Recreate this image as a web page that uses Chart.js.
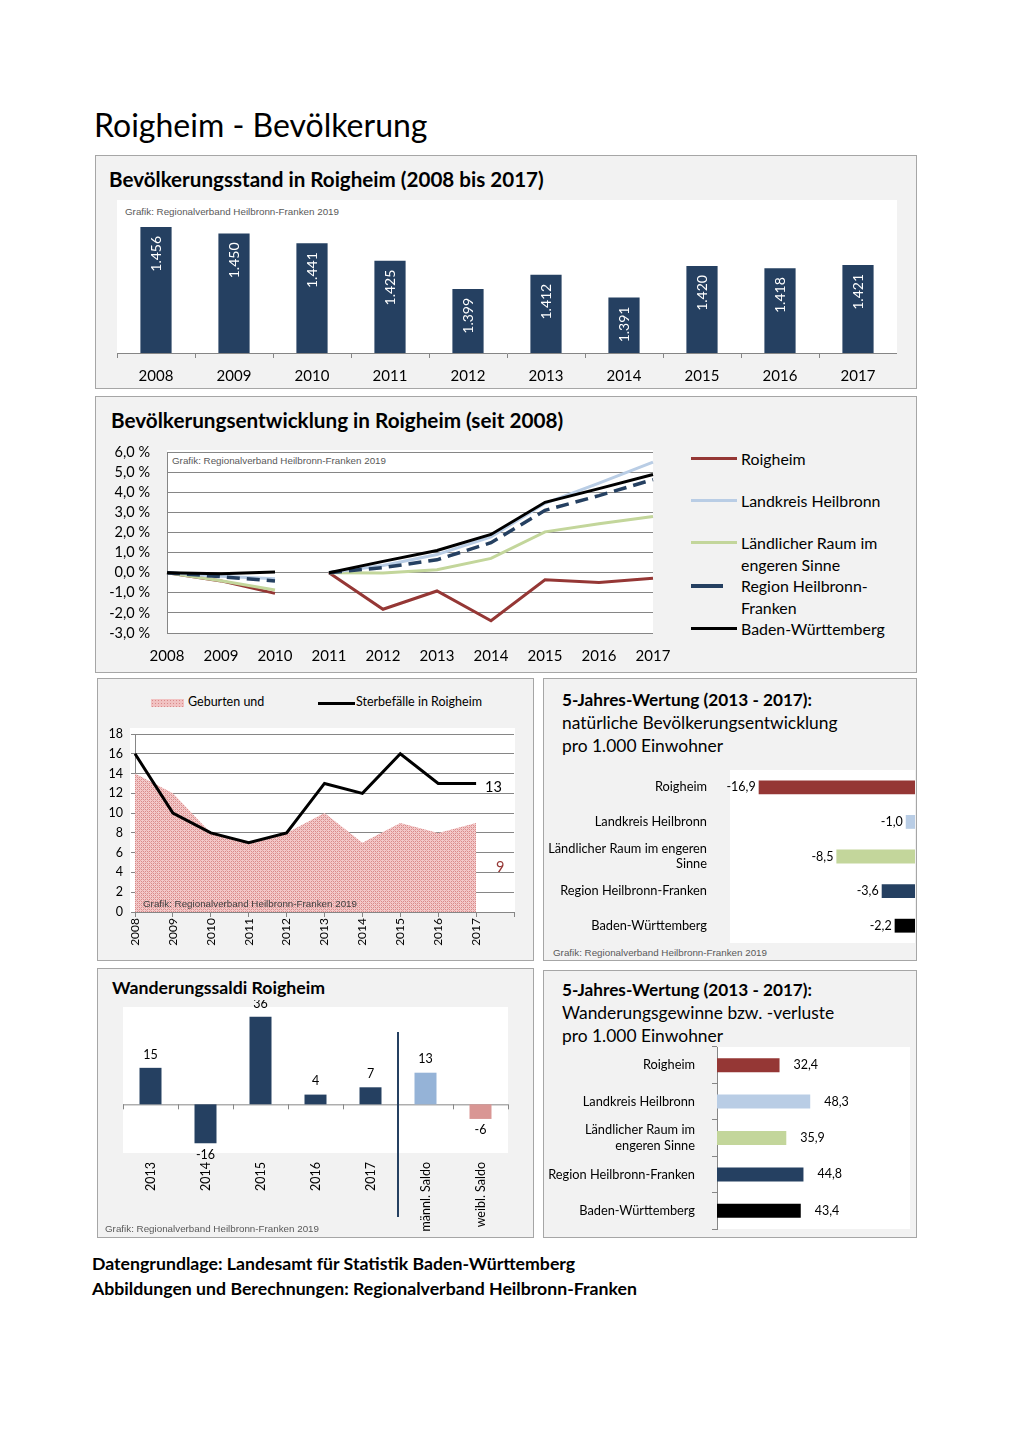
<!DOCTYPE html>
<html lang="de">
<head>
<meta charset="utf-8">
<title>Roigheim - Bevölkerung</title>
<script src="https://cdn.jsdelivr.net/npm/chart.js@4.4.1/dist/chart.umd.min.js"></script>
<style>
  body { margin: 0; width: 1020px; height: 1443px; position: relative; background: #fff; font-family: Lato, "Open Sans", sans-serif; color: #000; overflow: hidden; }
  .panel { position: absolute; background: #f2f2f2; border: 1px solid #a6a6a6; box-sizing: border-box; }
  .white { position: absolute; background: #fff; }
  .t { position: absolute; white-space: nowrap; line-height: 1; }
  .b { font-weight: bold; }
  .credit { position: absolute; white-space: nowrap; font-family: "Liberation Sans", Arial, sans-serif; font-size: 9.8px; line-height: 1; color: #595959; }
  .leg { position: absolute; font-size: 15.9px; line-height: 21.5px; white-space: nowrap; }
  .sw { position: absolute; height: 3px; }
  canvas { position: absolute; }
</style>
</head>
<body>

<div class="t" style="left:94px; top:109px; font-size:32px;">Roigheim - Bevölkerung</div>

<!-- panel 1 -->
<div class="panel" style="left:95px; top:155px; width:822px; height:234px;"></div>
<div class="t b" style="left:109px; top:169px; font-size:20.6px;">Bevölkerungsstand in Roigheim (2008 bis 2017)</div>
<div class="white" style="left:117px; top:200px; width:780px; height:154px;"></div>
<div class="credit" style="left:125px; top:206.5px;">Grafik: Regionalverband Heilbronn-Franken 2019</div>
<canvas id="c1" width="780" height="188" style="left:117px; top:200px;"></canvas>

<!-- panel 2 -->
<div class="panel" style="left:95px; top:396px; width:822px; height:277px;"></div>
<div class="t b" style="left:111px; top:410px; font-size:20.7px;">Bevölkerungsentwicklung in Roigheim (seit 2008)</div>
<div class="white" style="left:167px; top:450px; width:486px; height:183px;"></div>
<div class="credit" style="left:172px; top:455.5px;">Grafik: Regionalverband Heilbronn-Franken 2019</div>
<canvas id="c2" width="570" height="230" style="left:100px; top:440px;"></canvas>
<div id="legend2"></div>

<!-- panel 3 -->
<div class="panel" style="left:97px; top:678px; width:437px; height:283px;"></div>
<div class="white" style="left:130px; top:728px; width:385px; height:185px;"></div>
<div style="position:absolute; left:151px; top:699px; width:33px; height:8px; background:#f1c2c2 radial-gradient(#d98a8a 0.7px, transparent 0.9px) 0 0/3px 3px;"></div>
<div class="t" style="left:188px; top:695.5px; font-size:12.5px;">Geburten und</div>
<div class="sw" style="left:318px; top:701.5px; width:37px; background:#000;"></div>
<div class="t" style="left:356px; top:695.5px; font-size:12.5px;">Sterbefälle in Roigheim</div>
<canvas id="c3" width="430" height="238" style="left:100px; top:720px;"></canvas>
<div class="credit" style="left:143px; top:898.5px; color:#404040;">Grafik: Regionalverband Heilbronn-Franken 2019</div>

<!-- panel 4 -->
<div class="panel" style="left:543px; top:678px; width:374px; height:283px;"></div>
<div class="t b" style="left:562px; top:691px; font-size:17.2px;">5-Jahres-Wertung (2013 - 2017):</div>
<div class="t" style="left:562px; top:714px; font-size:17.4px;">natürliche Bevölkerungsentwicklung</div>
<div class="t" style="left:562px; top:737px; font-size:17.4px;">pro 1.000 Einwohner</div>
<div class="white" style="left:730px; top:770px; width:185px; height:173px;"></div>
<canvas id="c4" width="370" height="180" style="left:545px; top:765px;"></canvas>
<div class="credit" style="left:553px; top:947.5px;">Grafik: Regionalverband Heilbronn-Franken 2019</div>

<!-- panel 5 -->
<div class="panel" style="left:97px; top:968px; width:437px; height:270px;"></div>
<div class="white" style="left:123px; top:1007px; width:385px; height:146px;"></div>
<canvas id="c5" width="430" height="235" style="left:100px; top:1000px;"></canvas>
<div class="t b" style="left:112px; top:978.5px; font-size:17.7px;">Wanderungssaldi Roigheim</div>
<div class="credit" style="left:105px; top:1223.5px;">Grafik: Regionalverband Heilbronn-Franken 2019</div>

<!-- panel 6 -->
<div class="panel" style="left:543px; top:970px; width:374px; height:268px;"></div>
<div class="t b" style="left:562px; top:981px; font-size:17.2px;">5-Jahres-Wertung (2013 - 2017):</div>
<div class="t" style="left:562px; top:1004px; font-size:17.4px;">Wanderungsgewinne bzw. -verluste</div>
<div class="t" style="left:562px; top:1027px; font-size:17.4px;">pro 1.000 Einwohner</div>
<div class="white" style="left:717px; top:1047px; width:193px; height:182px;"></div>
<canvas id="c6" width="370" height="187" style="left:545px; top:1045px;"></canvas>

<div class="t b" style="left:92px; top:1254.5px; font-size:17.7px;">Datengrundlage: Landesamt für Statistik Baden-Württemberg</div>
<div class="t b" style="left:92px; top:1279.5px; font-size:17.7px;">Abbildungen und Berechnungen: Regionalverband Heilbronn-Franken</div>

<script>
// --- data ---
const years = ['2008', '2009', '2010', '2011', '2012', '2013', '2014', '2015', '2016', '2017'];
const population = [1456, 1450, 1441, 1425, 1399, 1412, 1391, 1420, 1418, 1421];

// Entwicklung in %, 2008-2010 bezogen auf 2008, ab 2011 bezogen auf 2011 (Zensus)
const devRoigheim = [0, -0.41, -1.03, 0, -1.82, -0.91, -2.39, -0.35, -0.49, -0.28];
const devLandkreis = [0, -0.18, -0.3, 0, 0.36, 0.9, 1.78, 3.45, 4.45, 5.5];
const devLaendlich = [0, -0.4, -0.86, 0, -0.02, 0.15, 0.71, 2.03, 2.43, 2.79];
const devRegion = [0, -0.2, -0.41, 0, 0.25, 0.64, 1.49, 3.1, 3.83, 4.63];
const devBW = [0, -0.05, 0.03, 0, 0.56, 1.1, 1.9, 3.5, 4.18, 4.88];

const birthYears = ['2008', '2009', '2010', '2011', '2012', '2013', '2014', '2015', '2016', '2017', ''];
const births = [14, 12, 8, 7, 8, 10, 7, 9, 8, 9];
const deaths = [16, 10, 8, 7, 8, 13, 12, 16, 13, 13];

const regions = ['Roigheim', 'Landkreis Heilbronn', ['Ländlicher Raum im engeren', 'Sinne'], 'Region Heilbronn-Franken', 'Baden-Württemberg'];
const regions2 = ['Roigheim', 'Landkreis Heilbronn', ['Ländlicher Raum im', 'engeren Sinne'], 'Region Heilbronn-Franken', 'Baden-Württemberg'];
const naturalRate = [-16.9, -1.0, -8.5, -3.6, -2.2];
const migrationRate = [32.4, 48.3, 35.9, 44.8, 43.4];

const migLabels = ['2013', '2014', '2015', '2016', '2017', 'männl. Saldo', 'weibl. Saldo'];
const migValues = [15, -16, 36, 4, 7, 13, -6];

// --- colours ---
const navy = '#254061';
const red = '#953735';
const lightBlue = '#b9cde5';
const green = '#c3d69b';
const axisGrey = '#868686';
const regionColors = [red, lightBlue, green, navy, '#000'];
const migColors = [navy, navy, navy, navy, navy, '#95b3d7', '#d99694'];

Chart.defaults.font.family = 'Lato, "Open Sans", sans-serif';
Chart.defaults.color = '#000';
Chart.defaults.animation = false;
Chart.defaults.responsive = false;
Chart.defaults.plugins.legend.display = false;
Chart.defaults.plugins.tooltip.enabled = false;

const comma = v => v.toFixed(1).replace('.', ',');
const thousands = v => String(v).replace(/\B(?=(\d{3})+(?!\d))/g, '.');

// fixe Achsengroesse, ohne die automatische Label-Polsterung
function fit(width, height) {
    return s => {
        if (width !== undefined) s.width = width;
        if (height !== undefined) s.height = height;
        s.paddingTop = 0; s.paddingBottom = 0; s.paddingLeft = 0; s.paddingRight = 0;
    };
}

// Balken 1: Bevoelkerungsstand
new Chart(document.getElementById('c1'), {
    type: 'bar',
    data: {
        labels: years,
        datasets: [{ data: population, backgroundColor: navy, barPercentage: 0.4, categoryPercentage: 1 }]
    },
    options: {
        layout: { padding: { top: 15 } },
        scales: {
            x: {
                grid: { offset: true, drawOnChartArea: false, tickLength: 5, color: axisGrey },
                border: { color: axisGrey },
                ticks: { padding: 9, font: { size: 15 } },
                afterFit: fit(undefined, 35)
            },
            y: { display: false, min: 1340, max: 1467 }
        }
    },
    plugins: [{
        id: 'popLabels',
        afterDatasetsDraw(chart) {
            const ctx = chart.ctx;
            chart.getDatasetMeta(0).data.forEach((bar, i) => {
                ctx.save();
                ctx.translate(bar.x, bar.y + 9);
                ctx.rotate(-Math.PI / 2);
                ctx.font = '14px Lato';
                ctx.fillStyle = '#fff';
                ctx.textAlign = 'right';
                ctx.textBaseline = 'middle';
                ctx.fillText(thousands(population[i]), 0, 0);
                ctx.restore();
            });
        }
    }]
});

// Linien: Entwicklung seit 2008
function devSet(data, color, dash) {
    return {
        data: data,
        borderColor: color,
        borderWidth: dash ? 3.5 : 3,
        borderDash: dash || [],
        pointRadius: 0,
        tension: 0,
        segment: { borderColor: c => c.p0DataIndex === 2 ? 'rgba(0,0,0,0)' : color }
    };
}

new Chart(document.getElementById('c2'), {
    type: 'line',
    data: {
        labels: years,
        datasets: [
            devSet(devBW, '#000'),
            devSet(devRegion, navy, [13, 7]),
            devSet(devLandkreis, lightBlue),
            devSet(devLaendlich, green),
            devSet(devRoigheim, red)
        ]
    },
    options: {
        layout: { padding: { top: 12, right: 17 } },
        scales: {
            x: {
                grid: { display: false, drawTicks: false },
                border: { display: false },
                ticks: { padding: 14, maxRotation: 0, autoSkip: false, font: { size: 15 } },
                afterFit: fit(undefined, 37)
            },
            y: {
                min: -3, max: 6,
                ticks: { stepSize: 1, padding: 17, autoSkip: false, font: { size: 14.5 }, callback: v => comma(v) + ' %' },
                grid: { color: axisGrey, drawTicks: false },
                border: { color: axisGrey },
                afterFit: fit(67)
            }
        }
    }
});

// HTML-Legende fuer Linien
const legendRows = [
    { name: 'Roigheim', color: red, top: 448, w: 46 },
    { name: 'Landkreis Heilbronn', color: lightBlue, top: 490, w: 46 },
    { name: 'Ländlicher Raum im<br>engeren Sinne', color: green, top: 532, w: 46 },
    { name: 'Region Heilbronn-<br>Franken', color: navy, top: 575, w: 32 },
    { name: 'Baden-Württemberg', color: '#000', top: 618, w: 46 }
];
const legend2 = document.getElementById('legend2');
legendRows.forEach(r => {
    legend2.insertAdjacentHTML('beforeend',
        `<div class="sw" style="left:691px; top:${r.top + 9}px; width:${r.w}px; height:${r.w < 40 ? 4 : 3}px; background:${r.color};"></div>` +
        `<div class="leg" style="left:741px; top:${r.top}px;">${r.name}</div>`);
});

// Geburten und Sterbefaelle
function hatch() {
    const c = document.createElement('canvas');
    c.width = 4; c.height = 4;
    const g = c.getContext('2d');
    g.fillStyle = '#f3caca';
    g.fillRect(0, 0, 4, 4);
    g.fillStyle = '#d98a8a';
    g.fillRect(1, 1, 1, 1);
    g.fillRect(3, 3, 1, 1);
    g.fillRect(1, 3, 1, 1);
    g.fillRect(3, 1, 1, 1);
    g.fillStyle = '#e6a6a6';
    g.fillRect(0, 0, 1, 1);
    g.fillRect(2, 2, 1, 1);
    return g.createPattern(c, 'repeat');
}

new Chart(document.getElementById('c3'), {
    type: 'line',
    data: {
        labels: birthYears,
        datasets: [
            { data: deaths, borderColor: '#000', borderWidth: 3, pointRadius: 0, tension: 0, order: 0 },
            { data: births, borderColor: 'rgba(0,0,0,0)', borderWidth: 0, backgroundColor: hatch(), fill: 'origin', pointRadius: 0, tension: 0, order: 1 }
        ]
    },
    options: {
        layout: { padding: { top: 14, right: 16 } },
        scales: {
            x: {
                grid: { drawOnChartArea: false, tickLength: 5, color: axisGrey },
                border: { color: axisGrey },
                ticks: { minRotation: 90, maxRotation: 90, padding: 1, autoSkip: false, font: { size: 12 } },
                afterFit: fit(undefined, 46)
            },
            y: {
                min: 0, max: 18,
                ticks: { stepSize: 2, padding: 8, autoSkip: false, font: { size: 12.5 } },
                grid: { color: axisGrey, tickLength: 4 },
                border: { color: axisGrey },
                afterFit: fit(35)
            }
        }
    },
    plugins: [{
        id: 'endLabels',
        afterDatasetsDraw(chart) {
            const ctx = chart.ctx;
            const xs = chart.scales.x, ys = chart.scales.y;
            const last = deaths.length - 1;
            ctx.save();
            ctx.font = '14.5px Lato';
            ctx.textBaseline = 'middle';
            ctx.fillStyle = '#000';
            ctx.fillText(String(deaths[last]), xs.getPixelForValue(last) + 9, ys.getPixelForValue(deaths[last]) + 4);
            ctx.fillStyle = red;
            ctx.fillText(String(births[last]), xs.getPixelForValue(last) + 20, ys.getPixelForValue(births[last] / 2));
            ctx.restore();
        }
    }]
});

// 5-Jahres-Wertung natuerliche Entwicklung
new Chart(document.getElementById('c4'), {
    type: 'bar',
    data: {
        labels: regions,
        datasets: [{ data: naturalRate, backgroundColor: regionColors, barPercentage: 0.4, categoryPercentage: 1 }]
    },
    options: {
        indexAxis: 'y',
        layout: { padding: { top: 5, bottom: 2 } },
        scales: {
            x: { display: false, min: -20, max: 0 },
            y: {
                grid: { display: false, drawTicks: false },
                border: { display: false },
                ticks: { padding: 23, autoSkip: false, font: { size: 12.8 } },
                afterFit: fit(185)
            }
        }
    },
    plugins: [{
        id: 'natLabels',
        afterDatasetsDraw(chart) {
            const ctx = chart.ctx;
            ctx.save();
            ctx.font = '12.5px Lato';
            ctx.fillStyle = '#000';
            ctx.textAlign = 'right';
            ctx.textBaseline = 'middle';
            chart.getDatasetMeta(0).data.forEach((bar, i) => {
                ctx.fillText(comma(naturalRate[i]), bar.x - 3, bar.y);
            });
            ctx.restore();
        }
    }]
});

// Wanderungssaldi
new Chart(document.getElementById('c5'), {
    type: 'bar',
    data: {
        labels: migLabels,
        datasets: [{ data: migValues, backgroundColor: migColors, barPercentage: 0.4, categoryPercentage: 1 }]
    },
    options: {
        layout: { padding: { top: 7, left: 23, right: 22 } },
        scales: {
            x: {
                grid: { display: false, drawTicks: false },
                border: { display: false },
                ticks: { minRotation: 90, maxRotation: 90, padding: 9, autoSkip: false, font: { size: 12.5 } },
                afterFit: fit(undefined, 82)
            },
            y: { display: false, min: -20, max: 40 }
        }
    },
    plugins: [{
        id: 'migDecor',
        beforeDatasetsDraw(chart) {
            const ctx = chart.ctx, a = chart.chartArea;
            const y0 = chart.scales.y.getPixelForValue(0);
            const step = (a.right - a.left) / migLabels.length;
            ctx.save();
            ctx.strokeStyle = axisGrey;
            ctx.lineWidth = 1;
            ctx.beginPath();
            ctx.moveTo(a.left, y0 + 0.5);
            ctx.lineTo(a.right, y0 + 0.5);
            for (let i = 0; i <= migLabels.length; i++) {
                const x = Math.round(a.left + i * step) + 0.5;
                ctx.moveTo(x, y0);
                ctx.lineTo(x, y0 + 5);
            }
            ctx.stroke();
            ctx.restore();
        },
        afterDatasetsDraw(chart) {
            const ctx = chart.ctx, a = chart.chartArea;
            const xs = chart.scales.x;
            ctx.save();
            // Trennlinie zwischen Jahren und Saldo nach Geschlecht
            const xSep = (xs.getPixelForValue(4) + xs.getPixelForValue(5)) / 2;
            ctx.strokeStyle = navy;
            ctx.lineWidth = 2;
            ctx.beginPath();
            ctx.moveTo(xSep, a.top + 25);
            ctx.lineTo(xSep, a.bottom + 64);
            ctx.stroke();
            ctx.font = '12.5px Lato';
            ctx.fillStyle = '#000';
            ctx.textAlign = 'center';
            chart.getDatasetMeta(0).data.forEach((bar, i) => {
                const v = migValues[i];
                if (v >= 0) {
                    ctx.textBaseline = 'bottom';
                    ctx.fillText(String(v), bar.x, bar.y - 7);
                } else {
                    ctx.textBaseline = 'top';
                    ctx.fillText(String(v), bar.x, bar.y + 5);
                }
            });
            ctx.restore();
        }
    }]
});

// 5-Jahres-Wertung Wanderungen
new Chart(document.getElementById('c6'), {
    type: 'bar',
    data: {
        labels: regions2,
        datasets: [{ data: migrationRate, backgroundColor: regionColors, barPercentage: 0.385, categoryPercentage: 1 }]
    },
    options: {
        indexAxis: 'y',
        layout: { padding: { top: 2, bottom: 3, right: 5 } },
        scales: {
            x: { display: false, min: 0, max: 100 },
            y: {
                grid: { offset: true, drawOnChartArea: false, tickLength: 5, color: axisGrey },
                border: { color: axisGrey },
                ticks: { padding: 17, autoSkip: false, font: { size: 12.8 } },
                afterFit: fit(172)
            }
        }
    },
    plugins: [{
        id: 'rateLabels',
        afterDatasetsDraw(chart) {
            const ctx = chart.ctx;
            ctx.save();
            ctx.font = '12.5px Lato';
            ctx.fillStyle = '#000';
            ctx.textAlign = 'left';
            ctx.textBaseline = 'middle';
            chart.getDatasetMeta(0).data.forEach((bar, i) => {
                ctx.fillText(comma(migrationRate[i]), bar.x + 14, bar.y);
            });
            ctx.restore();
        }
    }]
});
</script>
</body>
</html>
